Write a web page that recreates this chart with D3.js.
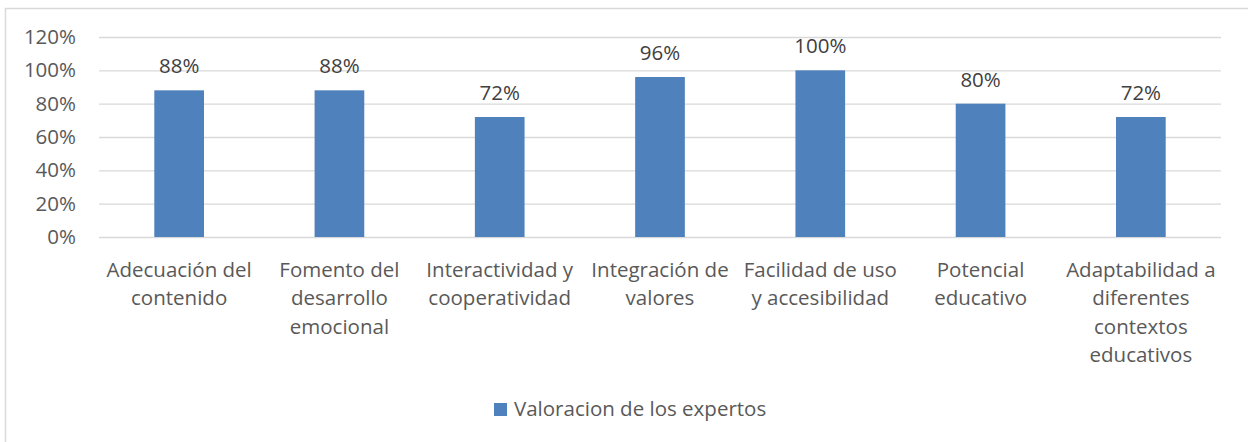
<!DOCTYPE html>
<html>
<head>
<meta charset="utf-8">
<script src="https://cdn.jsdelivr.net/npm/d3@7"></script>
<style>
  body { margin: 0; background: #fff; }
  svg text { font-family: "Open Sans", "Noto Sans", sans-serif; fill: #595959; }
  svg text.val { fill: #404040; }
</style>
</head>
<body>
<div id="viz_div"></div>
<script>
// Categories and values
var categories = [
	"Adecuación del contenido",
	"Fomento del desarrollo emocional",
	"Interactividad y cooperatividad",
	"Integración de valores",
	"Facilidad de uso y accesibilidad",
	"Potencial educativo",
	"Adaptabilidad a diferentes contextos educativos"
];
var values = [0.88, 0.88, 0.72, 0.96, 1.00, 0.80, 0.72];
var y_ticks = [0, 0.2, 0.4, 0.6, 0.8, 1.0, 1.2];
var series_name = "Valoracion de los expertos";

var w = 1248,
    h = 442;

var plot = { left: 99, right: 1221, top: 37, bottom: 237 };
var font_px = 20.5;
var bar_color = "#4f81bd",
    grid_color = "#d9d9d9";

var svg = d3.select("#viz_div")
			.append("svg")
			.attr("width", w)
			.attr("height", h);

// chart border
svg.append("rect")
	.attr("x", 5.5)
	.attr("y", 8.5)
	.attr("width", w + 10)
	.attr("height", h + 10)
	.attr("fill", "none")
	.attr("stroke", grid_color)
	.attr("stroke-width", 1.5);

var x = d3.scaleBand()
			.domain(categories)
			.range([plot.left, plot.right])
			.paddingInner(0.69)
			.paddingOuter(0.345);

var y = d3.scaleLinear()
			.domain([0, 1.2])
			.range([plot.bottom, plot.top]);

var fmt = d3.format(".0%");

// gridlines + y labels through the axis
var y_axis = d3.axisLeft(y)
				.tickValues(y_ticks)
				.tickFormat(fmt)
				.tickSize(-(plot.right - plot.left))
				.tickPadding(23);

var gy = svg.append("g")
			.attr("transform", "translate(" + plot.left + ",0)")
			.call(y_axis);
gy.select(".domain").remove();
gy.selectAll(".tick line").attr("stroke", grid_color).attr("stroke-width", 1.3);
gy.selectAll(".tick text")
	.style("font-size", font_px + "px")
	.attr("fill", "#595959");

svg.selectAll("rect.bar")
	.data(values)
	.enter()
	.append("rect")
	.attr("class", "bar")
	.attr("x", function(d, i) { return x(categories[i]); })
	.attr("y", function(d) { return y(d); })
	.attr("width", x.bandwidth())
	.attr("height", function(d) { return y(0) - y(d); })
	.attr("fill", bar_color);

// data labels
svg.selectAll("text.val")
	.data(values)
	.enter()
	.append("text")
	.attr("class", "val")
	.attr("x", function(d, i) { return x(categories[i]) + x.bandwidth() / 2; })
	.attr("y", function(d) { return y(d) - 17; })
	.attr("text-anchor", "middle")
	.style("font-size", font_px + "px")
	.text(function(d) { return fmt(d); });

// category labels, wrapped to the band step
var step = x.step();
function wrap_label(sel, label) {
	var words = label.split(" ");
	var lines = [], line = [];
	var probe = sel.append("tspan");
	words.forEach(function(wd) {
		var test = line.concat([wd]).join(" ");
		probe.text(test);
		if (line.length && probe.node().getComputedTextLength() > step - 4) {
			lines.push(line.join(" "));
			line = [wd];
		} else {
			line.push(wd);
		}
	});
	lines.push(line.join(" "));
	probe.remove();
	lines.forEach(function(l, k) {
		sel.append("tspan")
			.attr("x", sel.attr("x"))
			.attr("dy", k == 0 ? 0 : 28.3)
			.text(l);
	});
}

categories.forEach(function(c) {
	var t = svg.append("text")
		.attr("x", x(c) + x.bandwidth() / 2)
		.attr("y", 277)
		.attr("text-anchor", "middle")
		.style("font-size", font_px + "px");
	wrap_label(t, c);
});

// legend
var legend = svg.append("g").attr("transform", "translate(494,403)");
legend.append("rect")
	.attr("width", 13)
	.attr("height", 13)
	.attr("fill", bar_color);
legend.append("text")
	.attr("x", 20)
	.attr("y", 13)
	.style("font-size", font_px + "px")
	.text(series_name);
</script>
</body>
</html>
